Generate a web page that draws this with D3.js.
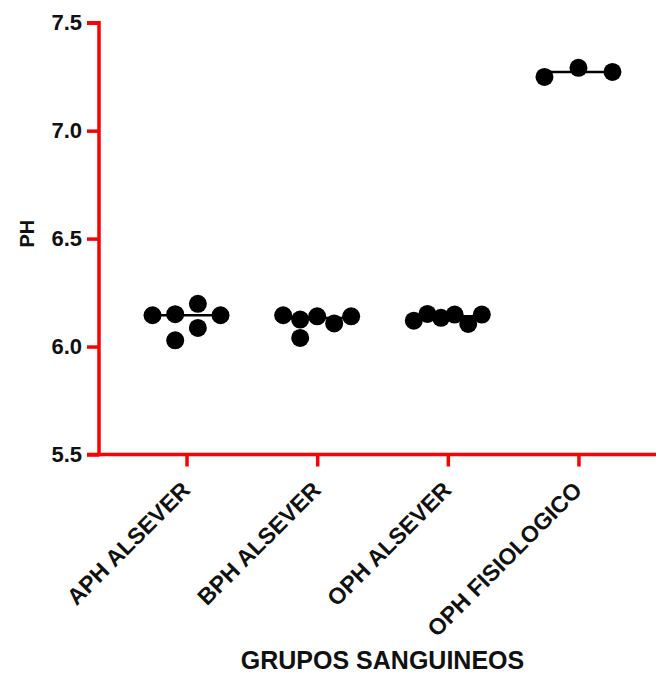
<!DOCTYPE html>
<html>
<head>
<meta charset="utf-8">
<script src="https://cdn.jsdelivr.net/npm/d3@7"></script>
<style>
  body { margin: 0; background: #fff; }
  svg { display: block; font-family: "Liberation Sans", Arial, sans-serif; }
</style>
</head>
<body>
<div id="chart"></div>
<script>
// groups on the x axis
const categories = ["APH ALSEVER", "BPH ALSEVER", "OPH ALSEVER", "OPH FISIOLOGICO"];
// pH readings per group
const aphAlsever = [6.145, 6.150, 6.029, 6.198, 6.086, 6.145];
const bphAlsever = [6.145, 6.125, 6.040, 6.140, 6.107, 6.140];
const ophAlsever = [6.120, 6.151, 6.133, 6.148, 6.105, 6.148];
const ophFisiologico = [7.249, 7.291, 7.272];
const yTicks = [5.5, 6.0, 6.5, 7.0, 7.5];
const yTitle = "PH";
const xTitle = "GRUPOS SANGUINEOS";

const groups = [aphAlsever, bphAlsever, ophAlsever, ophFisiologico];

let width = 656, height = 674,
    axisX = 99, axisY = 454.5, topY = 22.7,
    red = "#ff0000", axisW = 3.5, tickLen = 12,
    r = 9, spread = 34, minGap = 17;

let svg = d3.select("#chart").append("svg")
  .attr("width", width)
  .attr("height", height);

let y = d3.scaleLinear().domain([5.5, 7.5]).range([axisY, topY]);
let x = d3.scalePoint().domain(categories).range([axisX, 666]).padding(0.67);

// y axis
let yAxis = svg.append("g")
  .attr("transform", "translate(" + axisX + ",0)")
  .call(d3.axisLeft(y).tickValues(yTicks).tickFormat(d3.format(".1f")).tickSize(tickLen).tickPadding(5));
yAxis.select(".domain").attr("d", "M0," + (axisY + axisW / 2) + "V" + topY + "H-" + tickLen)
  .attr("stroke", red).attr("stroke-width", axisW).attr("fill", "none");
yAxis.selectAll(".tick line").attr("stroke", red).attr("stroke-width", axisW);
yAxis.selectAll(".tick text")
  .attr("fill", "#111").attr("font-size", 22).attr("font-weight", "bold");

// x axis
let xAxis = svg.append("g")
  .attr("transform", "translate(0," + axisY + ")")
  .call(d3.axisBottom(x).tickSize(tickLen).tickFormat(""));
xAxis.select(".domain").attr("d", "M" + (axisX - tickLen) + ",0H" + width)
  .attr("stroke", red).attr("stroke-width", axisW);
xAxis.selectAll(".tick line").attr("stroke", red).attr("stroke-width", axisW);

// rotated category labels
svg.selectAll(".cat")
  .data(categories).enter()
  .append("text")
  .attr("class", "cat")
  .attr("transform", function(d) { return "translate(" + (x(d) + 5) + "," + (axisY + 37) + ") rotate(-45)"; })
  .attr("text-anchor", "end")
  .attr("font-size", 23)
  .attr("font-weight", "bold")
  .attr("fill", "#111")
  .text(function(d) { return d; });

// spread points sideways where they would overlap
function layout(values) {
  let cols = [];
  values.forEach(function(v) {
    let cur = cols[cols.length - 1];
    let clash = !cur || cur.some(function(u) { return Math.abs(y(u) - y(v)) < minGap; });
    if (clash) cols.push([v]); else cur.push(v);
  });
  let n = cols.length, out = [];
  cols.forEach(function(c, i) {
    let off = n === 1 ? 0 : -spread + i * 2 * spread / (n - 1);
    c.forEach(function(v) { out.push({ v: v, off: off }); });
  });
  return out;
}

groups.forEach(function(vals, gi) {
  let cx = x(categories[gi]);
  let g = svg.append("g");
  g.selectAll("circle")
    .data(layout(vals)).enter()
    .append("circle")
    .attr("cx", function(d) { return cx + d.off; })
    .attr("cy", function(d) { return y(d.v); })
    .attr("r", r)
    .attr("fill", "#000");
  let med = d3.median(vals);
  g.append("line")
    .attr("x1", cx - spread).attr("x2", cx + spread)
    .attr("y1", y(med)).attr("y2", y(med))
    .attr("stroke", "#000").attr("stroke-width", 2.5);
});

// axis titles
svg.append("text")
  .attr("transform", "translate(34," + ((axisY + topY) / 2 - 5) + ") rotate(-90)")
  .attr("text-anchor", "middle")
  .attr("font-size", 20)
  .attr("font-weight", "bold")
  .attr("fill", "#111")
  .text(yTitle);

svg.append("text")
  .attr("x", (axisX + 666) / 2)
  .attr("y", 669)
  .attr("text-anchor", "middle")
  .attr("font-size", 25)
  .attr("font-weight", "bold")
  .attr("fill", "#111")
  .text(xTitle);
</script>
</body>
</html>
